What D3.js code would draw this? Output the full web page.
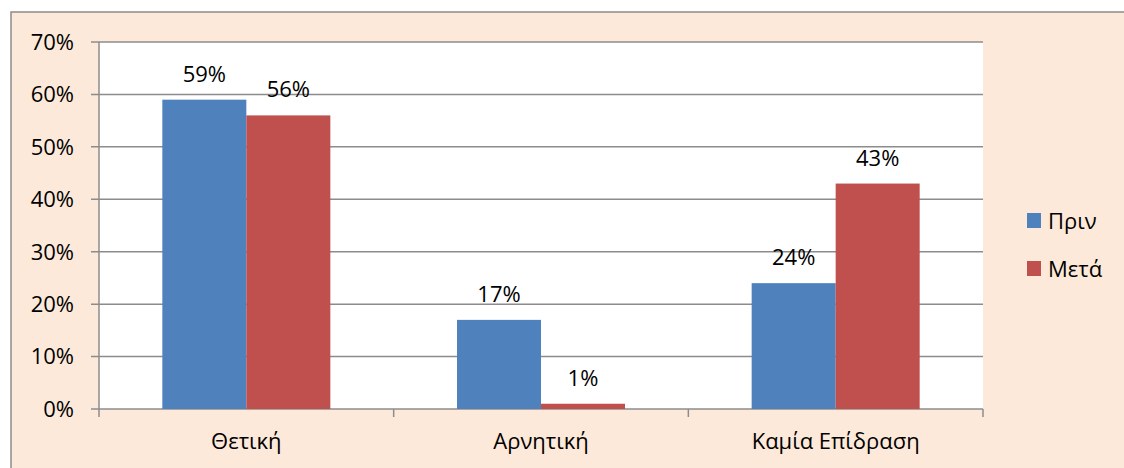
<!DOCTYPE html>
<html>
<head>
<meta charset="utf-8">
<script src="https://cdn.jsdelivr.net/npm/d3@7"></script>
<style>
  body { margin: 0; background: #fff; }
  svg { display: block; font-family: "Open Sans", "Liberation Sans", sans-serif; }
</style>
</head>
<body>
<svg width="1124" height="468"></svg>
<script>
var categories = ["Θετική", "Αρνητική", "Καμία Επίδραση"];
var seriesNames = ["Πριν", "Μετά"];
var before = [59, 17, 24];
var after = [56, 1, 43];
var yTicks = [0, 10, 20, 30, 40, 50, 60, 70];
var colors = ["#4F81BD", "#C0504D"];

var svg = d3.select("svg");
var fontSize = 22;

// chart background with border (runs off the bottom/right of the picture)
svg.append("rect")
    .attr("x", 11).attr("y", 12)
    .attr("width", 1130).attr("height", 470)
    .attr("fill", "#FDE9D9")
    .attr("stroke", "#8C8C8C")
    .attr("stroke-width", 1.5);

var plotLeft = 99, plotRight = 983, plotTop = 42, plotBottom = 409;

svg.append("rect")
    .attr("x", plotLeft).attr("y", plotTop)
    .attr("width", plotRight - plotLeft).attr("height", plotBottom - plotTop)
    .attr("fill", "#fff");

var x = d3.scaleBand().domain(categories).range([plotLeft, plotRight]);
var y = d3.scaleLinear().domain([0, 70]).range([plotBottom, plotTop]);
var barW = 84;

// grid lines
svg.append("g").selectAll("line")
    .data(yTicks)
    .enter().append("line")
    .attr("x1", plotLeft - 8).attr("x2", plotRight)
    .attr("y1", function(d) { return y(d); })
    .attr("y2", function(d) { return y(d); })
    .attr("stroke", "#8C8C8C")
    .attr("stroke-width", 1.5);

// y labels
svg.append("g").selectAll("text")
    .data(yTicks)
    .enter().append("text")
    .attr("x", 74).attr("y", function(d) { return y(d); })
    .attr("dy", "0.36em")
    .attr("text-anchor", "end")
    .attr("font-size", fontSize)
    .attr("fill", "#000")
    .text(function(d) { return d + "%"; });

// bars
var rows = categories.map(function(c, i) {
    return { cat: c, vals: [before[i], after[i]] };
});

var groups = svg.append("g").selectAll("g")
    .data(rows)
    .enter().append("g");

function pairs(d) {
    return d.vals.map(function(v, j) { return { cat: d.cat, v: v, j: j }; });
}

groups.selectAll("rect")
    .data(pairs)
    .enter().append("rect")
    .attr("x", function(d) { return x(d.cat) + x.bandwidth() / 2 - barW + d.j * barW; })
    .attr("y", function(d) { return y(d.v); })
    .attr("width", barW)
    .attr("height", function(d) { return plotBottom - y(d.v); })
    .attr("fill", function(d) { return colors[d.j]; });

groups.selectAll("text")
    .data(pairs)
    .enter().append("text")
    .attr("x", function(d) { return x(d.cat) + x.bandwidth() / 2 - barW / 2 + d.j * barW; })
    .attr("y", function(d) { return y(d.v) - 18; })
    .attr("text-anchor", "middle")
    .attr("font-size", fontSize)
    .text(function(d) { return d.v + "%"; });

// axis lines
svg.append("line")
    .attr("x1", plotLeft).attr("x2", plotLeft)
    .attr("y1", plotTop).attr("y2", plotBottom)
    .attr("stroke", "#8C8C8C").attr("stroke-width", 1.5);

var xTicks = [plotLeft].concat(categories.map(function(c) { return x(c) + x.bandwidth(); }));
svg.append("g").selectAll("line")
    .data(xTicks)
    .enter().append("line")
    .attr("x1", function(d) { return d; }).attr("x2", function(d) { return d; })
    .attr("y1", plotBottom).attr("y2", plotBottom + 8)
    .attr("stroke", "#8C8C8C").attr("stroke-width", 1.5);

svg.append("g").selectAll("text")
    .data(categories)
    .enter().append("text")
    .attr("x", function(d) { return x(d) + x.bandwidth() / 2; })
    .attr("y", 449)
    .attr("text-anchor", "middle")
    .attr("font-size", fontSize)
    .text(function(d) { return d; });

// legend
var legend = svg.append("g").selectAll("g")
    .data(seriesNames)
    .enter().append("g")
    .attr("transform", function(d, i) { return "translate(1027," + (213 + i * 48) + ")"; });

legend.append("rect")
    .attr("width", 14).attr("height", 15)
    .attr("fill", function(d, i) { return colors[i]; });

legend.append("text")
    .attr("x", 21).attr("y", 8)
    .attr("dy", "0.36em")
    .attr("font-size", fontSize)
    .text(function(d) { return d; });
</script>
</body>
</html>
